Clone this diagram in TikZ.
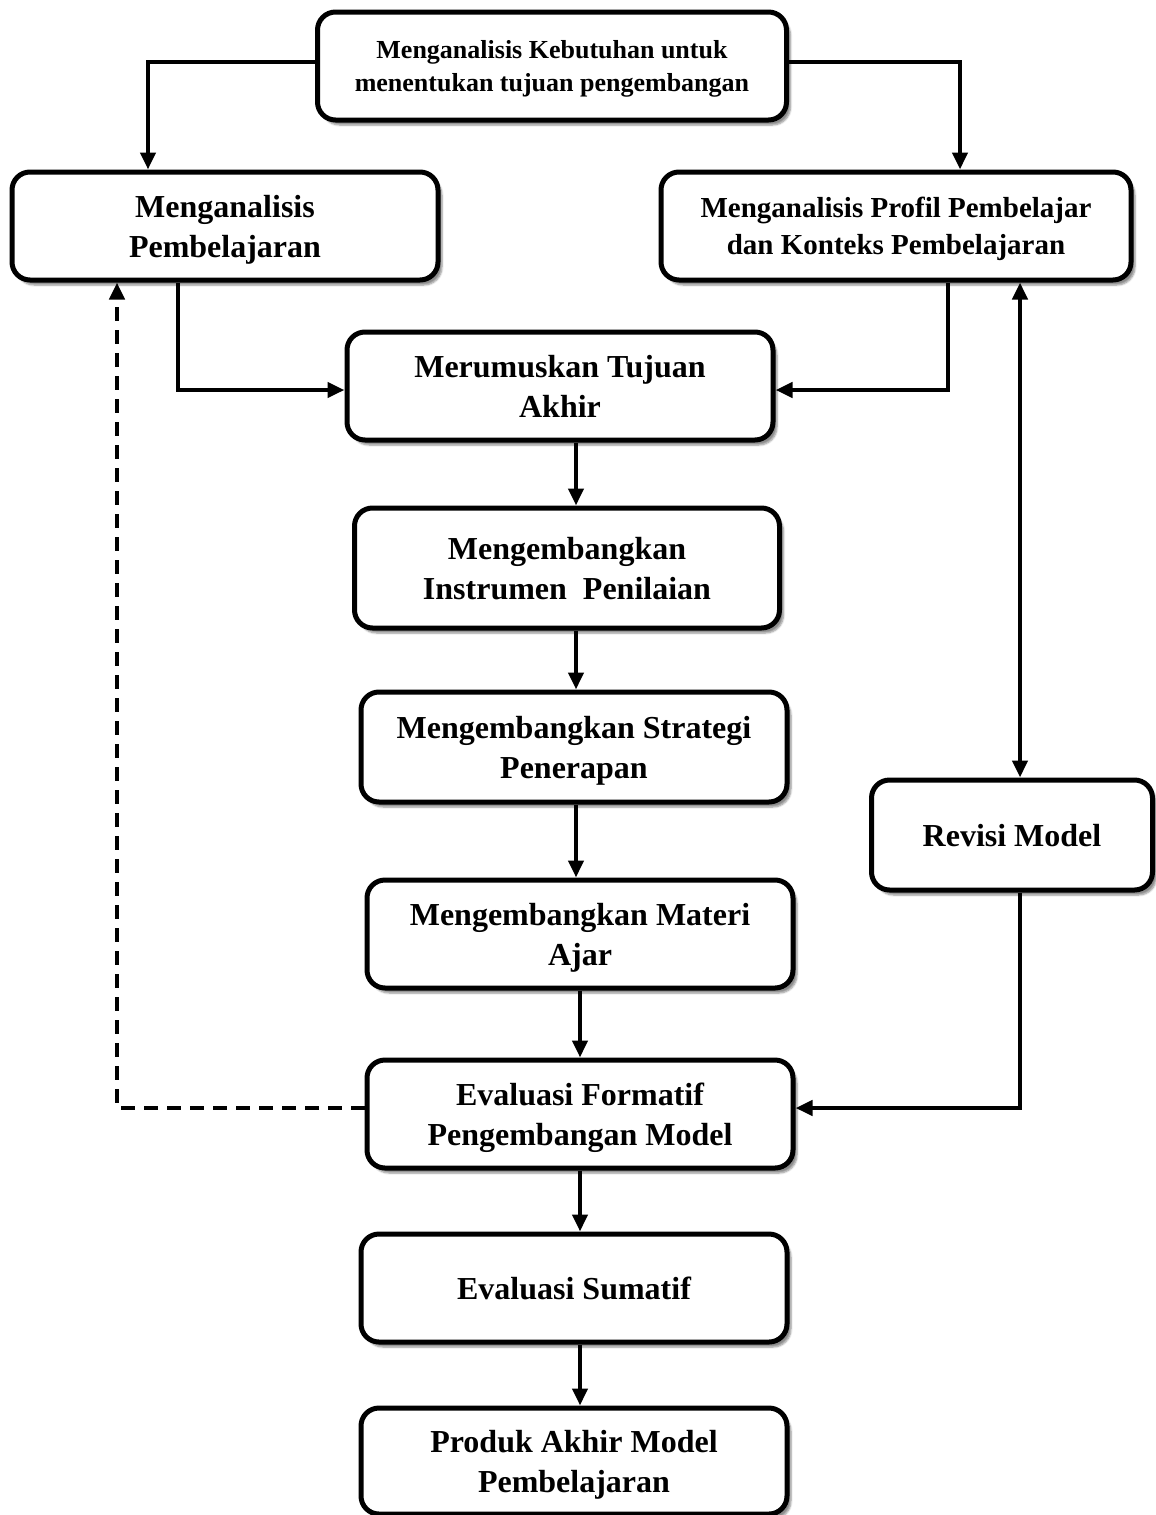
\documentclass[tikz,border=0pt]{standalone}
\usepackage{fontspec}
\setmainfont{Liberation Serif}
\usetikzlibrary{arrows.meta,shadows.blur,positioning}
\begin{document}
\begin{tikzpicture}[x=1pt,y=-1pt,
  box/.style={draw=black,line width=5pt,rounded corners=18pt,fill=white,
    align=center,inner sep=0pt,text depth=0pt,font=\bfseries\fontsize{32}{40}\selectfont,
    blur shadow={shadow xshift=4pt,shadow yshift=-5pt,shadow blur steps=6,shadow opacity=45}},
  conn/.style={line width=4.5pt,-{Triangle[length=17pt,width=15pt]}},
  dconn/.style={line width=4.5pt,{Triangle[length=17pt,width=15pt]}-{Triangle[length=17pt,width=15pt]}},
  dash conn/.style={line width=4.5pt,dash pattern=on 14pt off 9pt,-{Triangle[length=17pt,width=15pt]}}]
\useasboundingbox (0,0) rectangle (1156,1515);
\begin{scope}
\clip (0,0) rectangle (1156,1515);
\node[box,minimum width=469pt,minimum height=108pt,font=\bfseries\fontsize{26}{33}\selectfont] (top) at (552,66) {Menganalisis Kebutuhan untuk\\menentukan tujuan pengembangan};
\node[box,minimum width=426pt,minimum height=108pt] (lb) at (225,226) {Menganalisis\\Pembelajaran};
\node[box,minimum width=470pt,minimum height=108pt,font=\bfseries\fontsize{29}{37}\selectfont] (rb) at (896,226) {Menganalisis Profil Pembelajar\\dan Konteks Pembelajaran};
\node[box,minimum width=426pt,minimum height=108pt] (mt) at (560,386) {Merumuskan Tujuan\\Akhir};
\node[box,minimum width=425pt,minimum height=120pt] (ins) at (567,568) {Mengembangkan\\Instrumen\ \ Penilaian};
\node[box,minimum width=426pt,minimum height=110pt] (str) at (574,747) {Mengembangkan Strategi\\Penerapan};
\node[box,minimum width=426pt,minimum height=108pt] (mat) at (580,934) {Mengembangkan Materi\\Ajar};
\node[box,minimum width=426pt,minimum height=108pt] (ef) at (580,1114) {Evaluasi Formatif\\Pengembangan Model};
\node[box,minimum width=426pt,minimum height=108pt] (es) at (574,1288) {Evaluasi Sumatif};
\node[box,minimum width=426pt,minimum height=106pt] (pr) at (574,1461) {Produk Akhir Model\\Pembelajaran};
\node[box,minimum width=281pt,minimum height=110pt] (rev) at (1012,835) {Revisi Model};
\end{scope}
\coordinate (c1) at (148,62);
\coordinate (c2) at (960,62);
\draw[conn] (top.west |- c1) -| (lb.north -| c1);
\draw[conn] (top.east |- c2) -| (rb.north -| c2);
\coordinate (c3) at (178,390);
\coordinate (c4) at (948,390);
\draw[conn] (lb.south -| c3) |- (mt.west |- c3);
\draw[conn] (rb.south -| c4) |- (mt.east |- c4);
\coordinate (c5) at (576,0);
\draw[conn] (mt.south -| c5) -- (ins.north -| c5);
\draw[conn] (ins.south -| c5) -- (str.north -| c5);
\draw[conn] (str.south -| c5) -- (mat.north -| c5);
\coordinate (c6) at (580,0);
\draw[conn] (mat.south -| c6) -- (ef.north -| c6);
\draw[conn] (ef.south -| c6) -- (es.north -| c6);
\draw[conn] (es.south -| c6) -- (pr.north -| c6);
\coordinate (c7) at (1020,1108);
\draw[dconn] (rb.south -| c7) -- (rev.north -| c7);
\draw[conn] (rev.south -| c7) |- (ef.east |- c7);
\coordinate (c8) at (117,1108);
\draw[dash conn] (ef.west |- c8) -| (lb.south -| c8);
\end{tikzpicture}
\end{document}
